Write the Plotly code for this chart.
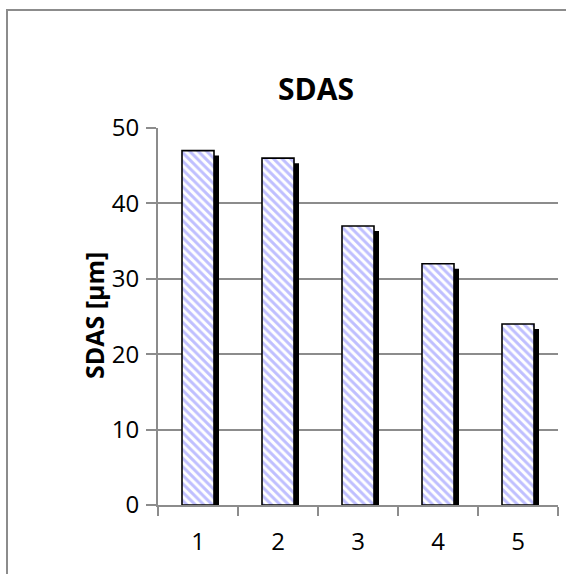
import plotly.graph_objects as go

categories = ["1", "2", "3", "4", "5"]
sdas_values = [47, 46, 37, 32, 24]
y_ticks = [0, 10, 20, 30, 40, 50]

W, H = 566, 574
L, R, T, B = 158, 8, 128, 69
pw, ph = W - L - R, H - T - B

fig = go.Figure()
shadow_vals = [v - 5 * 50 / ph for v in sdas_values]
fig.add_trace(go.Bar(
    x=categories, y=shadow_vals, width=0.4, offset=-0.2 + 5 * 5 / pw,
    marker=dict(color="black", line=dict(width=0)), hoverinfo="skip", showlegend=False))
fig.add_trace(go.Bar(
    x=categories, y=sdas_values, width=0.4, offset=-0.2,
    marker=dict(color="white", line=dict(color="black", width=1.6),
                pattern=dict(shape="\\", fgcolor="#8080ff", bgcolor="white",
                             size=6, solidity=0.5, fillmode="overlay")),
    showlegend=False))

font_family = "Open Sans, Liberation Sans, Arial"
fig.update_layout(
    width=W, height=H, margin=dict(l=L, r=R, t=T, b=B),
    paper_bgcolor="white", plot_bgcolor="white", barmode="overlay",
    font=dict(family=font_family, color="black", size=24),
    xaxis=dict(type="category", tickson="boundaries", ticks="outside", ticklen=9,
               tickwidth=2, tickcolor="#8c8c8c", showline=True, linecolor="#8c8c8c",
               linewidth=2, showgrid=False, range=[-0.5, 4.5],
               tickfont=dict(size=24), ticklabelstandoff=14),
    yaxis=dict(range=[0, 50], tickvals=y_ticks, ticks="outside", ticklen=10,
               tickwidth=2, tickcolor="#8c8c8c", showline=True, linecolor="#8c8c8c",
               linewidth=2, showgrid=True, gridcolor="#8c8c8c", gridwidth=2,
               zeroline=False, tickfont=dict(size=24), ticklabelstandoff=2),
    shapes=[dict(type="rect", xref="paper", yref="paper",
                 x0=(7 - L) / pw, x1=1.5, y0=-0.5, y1=1 + (T - 10) / ph,
                 line=dict(color="#8c8c8c", width=2), fillcolor="rgba(0,0,0,0)",
                 layer="below")],
    annotations=[
        dict(text="<b>SDAS [µm]</b>", xref="paper", yref="paper",
             x=(94 - L) / pw, y=(H - B - 316) / ph, showarrow=False, textangle=-90,
             font=dict(size=25), xanchor="center", yanchor="middle"),
        dict(text="<b>SDAS</b>", xref="paper", yref="paper",
             x=(316 - L) / pw, y=1 + (T - 88) / ph, showarrow=False,
             font=dict(size=30), xanchor="center", yanchor="middle"),
    ],
)
fig.write_html("out.html", config={"displayModeBar": False},
               post_script="document.body.style.margin='0';document.body.style.overflow='hidden';")
